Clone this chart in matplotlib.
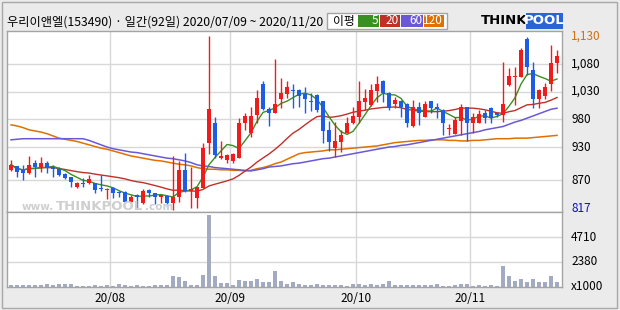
import numpy as np
import pandas as pd
import matplotlib
matplotlib.use("Agg")
import matplotlib.pyplot as plt
from matplotlib.patches import Rectangle
from matplotlib.transforms import blended_transform_factory

plt.rcParams['font.family'] = ['Noto Sans CJK KR', 'DejaVu Sans']

# ---- data (KRW, volume in thousands) ----
title = "우리이앤엘(153490) · 일간(92일) 2020/07/09 ~ 2020/11/20"
month_labels = ['20/08', '20/09', '20/10', '20/11']
month_start = [17, 37, 58, 77]   # index of first trading day of each month

opens = [889, 896, 889, 883, 901, 894, 901, 894, 891, 882, 876, 858, 865, 865, 865, 856,
         853, 856, 849, 849, 831, 844, 829, 853, 847, 840, 842, 829, 840, 889, 851, 838,
         856, 937, 973, 910, 907, 905, 910, 973, 955, 988, 1044, 999, 991, 1017, 1026, 1033,
         1033, 1026, 1013, 1024, 1013, 961, 928, 939, 955, 973, 984, 1011, 1006, 1031, 1049, 1027,
         1008, 1013, 1008, 968, 1002, 984, 1013, 1002, 997, 963, 954, 977, 1002, 973, 973, 991,
         1000, 991, 988, 1042, 1056, 1056, 1125, 1069, 1017, 1022, 1044, 1081]
closes = [898, 885, 883, 898, 894, 901, 892, 891, 880, 874, 867, 865, 864, 873, 853, 855,
          855, 847, 847, 831, 840, 840, 851, 847, 840, 844, 829, 840, 889, 851, 855, 858,
          928, 999, 916, 914, 916, 918, 973, 986, 986, 1018, 999, 991, 1008, 1027, 1038, 1031,
          1022, 1017, 1011, 997, 959, 939, 941, 952, 973, 986, 1013, 1018, 1033, 1044, 1027, 1000,
          1015, 1002, 973, 1002, 991, 1008, 1000, 999, 973, 964, 979, 1002, 973, 984, 990, 982,
          982, 988, 1008, 1058, 1058, 1105, 1074, 1017, 1033, 1038, 1081, 1094]
highs = [907, 896, 898, 914, 907, 912, 905, 898, 894, 883, 876, 867, 874, 880, 865, 880,
         856, 858, 851, 851, 844, 846, 855, 855, 847, 844, 844, 914, 905, 919, 894, 858,
         937, 1130, 984, 941, 918, 919, 982, 991, 1002, 1033, 1049, 1002, 1089, 1054, 1049, 1044,
         1035, 1038, 1027, 1026, 1013, 977, 975, 961, 984, 1002, 1049, 1035, 1044, 1058, 1051, 1029,
         1020, 1015, 1009, 1015, 1011, 1013, 1013, 1009, 999, 972, 984, 1008, 1002, 991, 997, 997,
         1002, 993, 1083, 1072, 1074, 1108, 1128, 1083, 1035, 1045, 1114, 1105]
lows = [887, 876, 871, 882, 876, 885, 883, 876, 878, 873, 858, 856, 858, 864, 847, 851,
        837, 838, 840, 829, 829, 820, 828, 840, 828, 829, 822, 817, 831, 849, 820, 820,
        856, 918, 910, 909, 901, 901, 910, 961, 948, 973, 997, 968, 991, 1000, 1018, 1000,
        1002, 991, 995, 993, 937, 923, 912, 921, 955, 972, 973, 997, 1004, 1011, 1011, 997,
        1000, 984, 966, 966, 970, 984, 991, 982, 952, 952, 954, 952, 941, 955, 973, 973,
        973, 984, 975, 1040, 1006, 1056, 1060, 1000, 1000, 1017, 1031, 1063]
volumes = [170, 233, 233, 233, 170, 233, 326, 233, 326, 326, 326, 140, 140, 140, 233, 140,
           233, 140, 326, 233, 140, 233, 140, 140, 233, 233, 233, 1070, 915, 540, 233, 233,
           1165, 6850, 1070, 390, 390, 233, 700, 540, 540, 790, 450, 450, 1475, 540, 326, 450,
           326, 233, 233, 326, 233, 233, 233, 233, 140, 326, 326, 233, 326, 233, 326, 540,
           233, 233, 233, 233, 233, 233, 233, 326, 140, 140, 233, 326, 326, 140, 233, 140,
           233, 140, 2000, 1010, 540, 790, 450, 790, 450, 450, 1070, 450]
ma60 = [943, 944, 945, 945, 945, 945, 945, 945, 945, 945, 945, 945, 945, 942, 938, 934,
        930, 927, 925, 923, 921, 920, 918, 916, 914, 912, 910, 909, 907, 905, 902, 898,
        896, 895, 893, 892, 891, 890, 889, 888, 887, 889, 891, 894, 895, 896, 898, 900,
        901, 903, 905, 907, 909, 910, 912, 914, 916, 918, 920, 922, 924, 926, 928, 930,
        931, 933, 934, 936, 938, 940, 942, 944, 946, 948, 950, 952, 954, 956, 958, 961,
        963, 965, 967, 971, 975, 978, 982, 986, 990, 994, 998, 1000]
ma120 = [970, 968, 965, 961, 959, 957, 954, 950, 946, 944, 942, 940, 937, 934, 931, 928,
         926, 923, 920, 917, 914, 912, 910, 908, 906, 905, 903, 901, 899, 898, 896, 893,
         891, 890, 890, 889, 889, 888, 888, 887, 888, 891, 893, 896, 900, 903, 908, 913,
         918, 920, 921, 922, 923, 925, 925, 926, 927, 928, 929, 930, 931, 932, 934, 936,
         938, 939, 940, 941, 942, 942, 943, 943, 943, 942, 942, 941, 941, 942, 942, 943,
         944, 945, 945, 945, 946, 946, 946, 947, 948, 949, 950, 951]

price_ticks = [870, 930, 980, 1030, 1080]
vol_ticks = [2380, 4710]

df = pd.DataFrame({'open': opens, 'high': highs, 'low': lows, 'close': closes, 'vol': volumes})
df['ma5'] = df['close'].rolling(5, min_periods=1).mean()
df['ma20'] = df['close'].rolling(20, min_periods=1).mean()
x = np.arange(len(df))

UP = '#f01c1c'
DOWN = '#1e5ce6'
C5, C20, C60, C120 = '#3a8f22', '#c03028', '#6a58d8', '#e07000'
GRID = '#d8d8d8'
EDGE = '#a4a4a4'

W, H = 620, 310
fig = plt.figure(figsize=(6.2, 3.1), dpi=100, facecolor='#ebebeb')


def fx(px):
    return px / W


def fy(py):
    return 1 - py / H


ax = fig.add_axes([fx(7), fy(212), fx(555), 181 / H])
axv = fig.add_axes([fx(7), fy(287), fx(555), 75 / H], sharex=ax)

for a in (ax, axv):
    a.set_facecolor('white')
    for s in a.spines.values():
        s.set_color(EDGE)
        s.set_linewidth(1)
    a.tick_params(left=False, bottom=False, right=False, labelleft=False, labelbottom=False)
    for m in month_start:
        a.axvline(m - 0.5, color=GRID, lw=1, zorder=0)

ax.set_xlim(-0.67, 91.83)
ax.set_ylim(813, 1139)
for t in price_ticks:
    ax.axhline(t, color=GRID, lw=1, zorder=0)

# watermark: three pieces set side by side, behind the candles
renderer = fig.canvas.get_renderer()
wx = 22
for txt, size in [('www.', 7.5), ('THINKPOOL', 9.5), ('.com', 7.5)]:
    t = fig.text(fx(wx), fy(210), txt, ha='left', va='baseline', fontsize=size,
                 color='#cfcfcf', fontweight='bold', family='DejaVu Sans', zorder=0.5)
    wx += t.get_window_extent(renderer).width + 1.5

# moving averages
ax.plot(x, ma120, color=C120, lw=1.1, zorder=2)
ax.plot(x, ma60, color=C60, lw=1.1, zorder=2)
ax.plot(x, df['ma20'], color=C20, lw=1.0, zorder=2)
ax.plot(x, df['ma5'], color=C5, lw=1.0, zorder=2)

# candles
up = df['close'] >= df['open']
cols = np.where(up, UP, DOWN)
ax.vlines(x, df['low'], df['high'], colors=cols, lw=1, zorder=3)
body = np.maximum((df['close'] - df['open']).abs(), 1.6)
ax.bar(x, body, bottom=np.minimum(df['open'], df['close']), width=0.72,
       color=cols, zorder=4, linewidth=0)

# right price labels
ytr = blended_transform_factory(ax.transAxes, ax.transData)
lx = (571 - 7) / 555
for t in price_ticks:
    ax.text(lx, t, f'{t:,}', transform=ytr, ha='left', va='center', fontsize=8.5, color='black')
ax.text(lx, max(highs), f'{max(highs):,}', transform=ytr, ha='left', va='center',
        fontsize=8.5, color='#d07010')
ax.text(lx, min(lows) + 3, f'{min(lows):,}', transform=ytr, ha='left', va='center',
        fontsize=8.5, color='#1010c0')

# volume
axv.set_ylim(0, 7130)
for t in vol_ticks:
    axv.axhline(t, color=GRID, lw=1, zorder=0)
axv.bar(x, df['vol'], width=0.72, color='#a3abc3', zorder=2, linewidth=0)
vtr = blended_transform_factory(axv.transAxes, axv.transData)
for t in vol_ticks:
    axv.text(lx, t, str(t), transform=vtr, ha='left', va='center', fontsize=8.5)
axv.text(lx, 0, 'x1000', transform=vtr, ha='left', va='center', fontsize=8.5)

mtr = blended_transform_factory(axv.transData, axv.transAxes)
for lab, m in zip(month_labels, month_start):
    axv.text(m - 0.5, -0.15, lab, transform=mtr, ha='center', va='center', fontsize=8.5)

# title
fig.text(fx(7), fy(22), title, ha='left', va='center', fontsize=8.8)

# MA legend box
fig.add_artist(Rectangle((fx(327), fy(29)), fx(120), 16 / H, transform=fig.transFigure,
                         facecolor='white', edgecolor=EDGE, lw=1))
fig.text(fx(333), fy(21), '이평', ha='left', va='center', fontsize=8.5)
legend_items = [('5', C5, 358, 379), ('20', C20, 380, 400), ('60', C60, 401, 423), ('120', C120, 424, 444)]
for lab, c, x0, x1 in legend_items:
    fig.add_artist(Rectangle((fx(x0), fy(27)), fx(x1 - x0), 12 / H, transform=fig.transFigure,
                             facecolor=c, edgecolor='none'))
    fig.text(fx(x1 - 1), fy(21), lab, ha='right', va='center', fontsize=8.5, color='white')

# THINKPOOL logo
fig.add_artist(Rectangle((fx(526), fy(29)), fx(37), 16 / H, transform=fig.transFigure,
                         facecolor='#2a64d6', edgecolor='none'))
fig.text(fx(481), fy(21), 'THINK', ha='left', va='center', fontsize=9.5,
         fontweight='bold', family='DejaVu Sans', color='black')
fig.text(fx(544.5), fy(21), 'POOL', ha='center', va='center', fontsize=9.5,
         fontweight='bold', family='DejaVu Sans', color='white')

# outer frame
fig.add_artist(Rectangle((fx(2), fy(308)), fx(615), 306 / H, transform=fig.transFigure,
                         facecolor='none', edgecolor='#a8a8a8', lw=1))

fig.savefig('out.png', dpi=100, facecolor=fig.get_facecolor())
